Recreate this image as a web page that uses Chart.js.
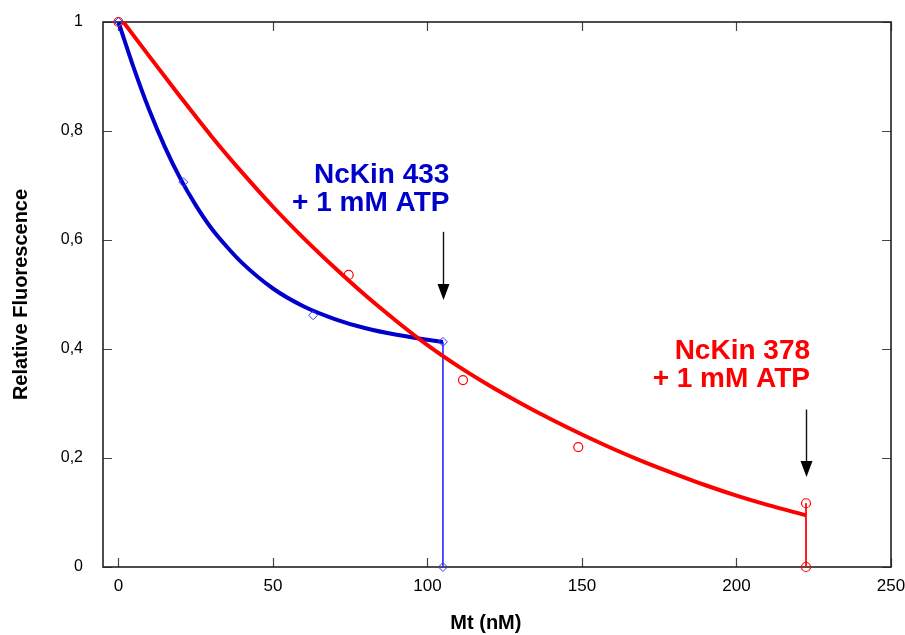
<!DOCTYPE html>
<html>
<head>
<meta charset="utf-8">
<script src="https://cdn.jsdelivr.net/npm/chart.js@4.4.0/dist/chart.umd.min.js"></script>
<style>
  html, body { margin: 0; padding: 0; background: #fff; }
  #wrap { width: 905px; height: 635px; }
</style>
</head>
<body>
<div id="wrap"><canvas id="chart"></canvas></div>
<script>
// measured points
const ncKin433X = [0, 21, 63, 105, 105];
const ncKin433Y = [1, 0.706, 0.462, 0.413, 0];
const ncKin378X = [0, 74.5, 111.5, 148.8, 222.5, 222.5];
const ncKin378Y = [1, 0.536, 0.343, 0.22, 0.117, 0];

// fitted curves
const fit433X = [0, 5, 10, 15, 20, 25, 30, 35, 40, 50, 60, 70, 80, 90, 100, 105];
const fit433Y = [1, 0.915, 0.838, 0.771, 0.713, 0.664, 0.622, 0.588, 0.558, 0.511, 0.478, 0.455, 0.438, 0.426, 0.417, 0.413];
const fit378X = [0, 10, 20, 30, 40, 50, 60, 70, 80, 90, 100, 110, 120, 130, 140, 150, 160, 170, 180, 190, 200, 210, 222.5];
const fit378Y = [1.012, 0.937, 0.863, 0.791, 0.724, 0.661, 0.603, 0.549, 0.498, 0.451, 0.407, 0.368, 0.333, 0.301, 0.271, 0.243, 0.217, 0.193, 0.171, 0.15, 0.131, 0.114, 0.095];

const xTicks = [0, 50, 100, 150, 200, 250];
const yTicks = [0, 0.2, 0.4, 0.6, 0.8, 1];

const labels433 = ['NcKin 433', '+ 1 mM ATP'];
const labels378 = ['NcKin 378', '+ 1 mM ATP'];

const toPoints = (xs, ys) => xs.map((x, i) => ({ x, y: ys[i] }));

const BLUE = '#0000cc';
const RED = '#ff0000';
const FONT = "'Liberation Sans', Arial, Helvetica, sans-serif";

// inward ticks on all four sides + frame
const frame = {
    id: 'frame',
    beforeDatasetsDraw(chart) {
        const { ctx, chartArea: a, scales: { x, y } } = chart;
        ctx.save();
        ctx.strokeStyle = '#444';
        ctx.lineWidth = 1.2;
        ctx.beginPath();
        x.ticks.forEach((t) => {
            const px = Math.round(x.getPixelForValue(t.value)) + 0.5;
            ctx.moveTo(px, a.bottom); ctx.lineTo(px, a.bottom - 9);
            ctx.moveTo(px, a.top); ctx.lineTo(px, a.top + 9);
        });
        y.ticks.forEach((t) => {
            const py = Math.round(y.getPixelForValue(t.value)) + 0.5;
            ctx.moveTo(a.left, py); ctx.lineTo(a.left + 9, py);
            ctx.moveTo(a.right, py); ctx.lineTo(a.right - 9, py);
        });
        ctx.stroke();
        ctx.strokeStyle = '#222';
        ctx.lineWidth = 1.6;
        ctx.strokeRect(a.left, a.top, a.width, a.height);
        ctx.restore();
    },
};

// text labels and arrows
const callouts = {
    id: 'callouts',
    afterDatasetsDraw(chart, args, opts) {
        const { ctx, scales: { x, y } } = chart;
        ctx.save();
        (opts.items || []).forEach((item) => {
            ctx.fillStyle = item.color;
            ctx.font = `bold 28px ${FONT}`;
            ctx.textAlign = 'right';
            ctx.textBaseline = 'alphabetic';
            item.lines.forEach((line, i) => {
                ctx.fillText(line, x.getPixelForValue(item.textX), y.getPixelForValue(item.textY[i]));
            });
            const ax = Math.round(x.getPixelForValue(item.arrowX)) + 0.5;
            const top = y.getPixelForValue(item.arrowTop);
            const tip = y.getPixelForValue(item.arrowTip);
            ctx.strokeStyle = '#111';
            ctx.lineWidth = 1.4;
            ctx.beginPath();
            ctx.moveTo(ax, top);
            ctx.lineTo(ax, tip - 14);
            ctx.stroke();
            ctx.fillStyle = '#000';
            ctx.beginPath();
            ctx.moveTo(ax - 6, tip - 16);
            ctx.lineTo(ax + 6, tip - 16);
            ctx.lineTo(ax, tip);
            ctx.closePath();
            ctx.fill();
        });
        ctx.restore();
    },
};

new Chart(document.getElementById('chart'), {
    type: 'scatter',
    data: {
        datasets: [
            {
                label: 'NcKin 433',
                data: toPoints(ncKin433X, ncKin433Y),
                pointStyle: 'rectRot',
                pointRadius: 4.5,
                borderColor: '#3535ff',
                backgroundColor: 'rgba(255,255,255,0)',
                borderWidth: 1,
                clip: false,
                order: 0,
            },
            {
                label: 'NcKin 378',
                data: toPoints(ncKin378X, ncKin378Y),
                pointStyle: 'circle',
                pointRadius: 4.5,
                borderColor: RED,
                backgroundColor: 'rgba(255,255,255,0)',
                borderWidth: 1.2,
                clip: false,
                order: 0,
            },
            {
                label: 'fit 378',
                data: toPoints(fit378X, fit378Y),
                showLine: true,
                borderColor: RED,
                borderWidth: 4,
                pointRadius: 0,
                cubicInterpolationMode: 'monotone',
                clip: 0,
                order: 1,
            },
            {
                label: 'fit 433',
                data: toPoints(fit433X, fit433Y),
                showLine: true,
                borderColor: BLUE,
                borderWidth: 4,
                pointRadius: 0,
                cubicInterpolationMode: 'monotone',
                clip: 0,
                order: 2,
            },
            {
                label: 'drop 433',
                data: toPoints(ncKin433X.slice(-2), ncKin433Y.slice(-2)),
                showLine: true,
                borderColor: '#3535ff',
                borderWidth: 1,
                pointRadius: 0,
                order: 3,
            },
            {
                label: 'drop 378',
                data: toPoints(ncKin378X.slice(-2), ncKin378Y.slice(-2)),
                showLine: true,
                borderColor: RED,
                borderWidth: 1,
                pointRadius: 0,
                order: 3,
            },
        ],
    },
    options: {
        responsive: true,
        maintainAspectRatio: false,
        animation: false,
        layout: { padding: { top: 22, right: 14, left: 0, bottom: 0 } },
        plugins: {
            legend: { display: false },
            tooltip: { enabled: false },
            callouts: {
                items: [
                    { lines: labels433, color: BLUE, textX: 107.1, textY: [0.705, 0.653], arrowX: 105, arrowTop: 0.615, arrowTip: 0.49 },
                    { lines: labels378, color: RED, textX: 223.8, textY: [0.381, 0.331], arrowX: 222.5, arrowTop: 0.289, arrowTip: 0.165 },
                ],
            },
        },
        scales: {
            x: {
                type: 'linear',
                min: -5,
                max: 250,
                grid: { display: false, drawTicks: false },
                border: { display: false },
                afterBuildTicks: (scale) => { scale.ticks = xTicks.map((v) => ({ value: v })); },
                afterFit: (scale) => { scale.height = 68; scale.paddingLeft = 0; scale.paddingRight = 0; },
                ticks: {
                    padding: 9,
                    color: '#000',
                    font: { family: FONT, size: 17 },
                    maxRotation: 0,
                },
                title: {
                    display: true,
                    text: 'Mt (nM)    ',
                    color: '#000',
                    font: { family: FONT, size: 20, weight: 'bold' },
                    padding: { top: 0, bottom: 0 },
                },
            },
            y: {
                type: 'linear',
                min: 0,
                max: 1,
                grid: { display: false, drawTicks: false },
                border: { display: false },
                afterBuildTicks: (scale) => { scale.ticks = yTicks.map((v) => ({ value: v })); },
                afterFit: (scale) => { scale.width = 103; scale.paddingTop = 0; scale.paddingBottom = 0; },
                ticks: {
                    padding: 20,
                    color: '#000',
                    font: { family: FONT, size: 16 },
                    callback: (v) => (v === 0 ? '0' : v === 1 ? '1' : v.toFixed(1).replace('.', ',')),
                },
                title: {
                    display: true,
                    text: 'Relative Fluorescence',
                    color: '#000',
                    font: { family: FONT, size: 20, weight: 'bold' },
                    padding: { top: 9, bottom: 0 },
                },
            },
        },
    },
    plugins: [frame, callouts],
});
</script>
</body>
</html>
